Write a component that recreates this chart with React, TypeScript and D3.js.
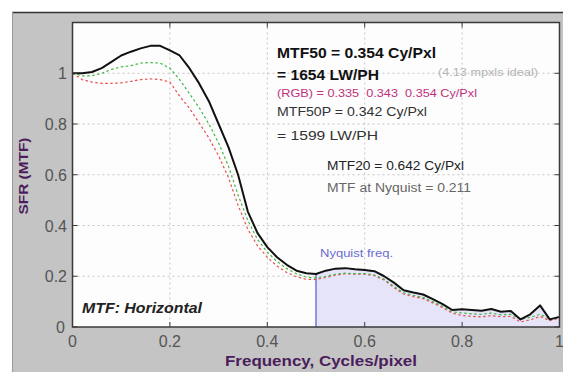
import React from "react";
import * as d3 from "d3";

// Spatial frequency, cycles/pixel
const freq = [
  0.0, 0.02, 0.04, 0.06, 0.08, 0.1, 0.12, 0.14, 0.16, 0.18, 0.2, 0.22, 0.24,
  0.26, 0.28, 0.3, 0.32, 0.34, 0.36, 0.38, 0.4, 0.42, 0.44, 0.46, 0.48, 0.5,
  0.52, 0.54, 0.56, 0.58, 0.6, 0.62, 0.64, 0.66, 0.68, 0.7, 0.72, 0.74, 0.76,
  0.78, 0.8, 0.82, 0.84, 0.86, 0.88, 0.9, 0.92, 0.94, 0.96, 0.98, 1.0,
];

// Luminance MTF (black)
const mtfLum = [
  1.0, 1.0, 1.005, 1.02, 1.045, 1.07, 1.085, 1.098, 1.108, 1.108, 1.09, 1.07,
  1.02, 0.96, 0.89, 0.8, 0.71, 0.6, 0.455, 0.37, 0.315, 0.275, 0.245, 0.222,
  0.212, 0.209, 0.222, 0.23, 0.232, 0.228, 0.225, 0.22, 0.2, 0.175, 0.145,
  0.136, 0.128, 0.11, 0.09, 0.067, 0.07, 0.067, 0.064, 0.071, 0.06, 0.063,
  0.03, 0.05, 0.085, 0.03, 0.04,
];

// Green channel MTF
const mtfGreen = [
  1.0, 0.99, 0.99, 1.0, 1.015, 1.025, 1.03, 1.04, 1.042, 1.04, 1.02, 0.975,
  0.92, 0.865, 0.8, 0.725, 0.635, 0.52, 0.42, 0.345, 0.295, 0.258, 0.23, 0.21,
  0.197, 0.193, 0.2, 0.208, 0.212, 0.21, 0.21, 0.205, 0.188, 0.16, 0.135,
  0.125, 0.116, 0.1, 0.082, 0.06, 0.055, 0.052, 0.05, 0.055, 0.048, 0.05, 0.03,
  0.038, 0.05, 0.032, 0.038,
];

// Red channel MTF
const mtfRed = [
  1.0, 0.975, 0.965, 0.96, 0.96, 0.962, 0.968, 0.975, 0.978, 0.975, 0.965,
  0.91, 0.862, 0.805, 0.745, 0.675, 0.59, 0.48, 0.385, 0.32, 0.275, 0.24, 0.215,
  0.198, 0.188, 0.187, 0.195, 0.204, 0.21, 0.208, 0.208, 0.202, 0.185, 0.155,
  0.13, 0.12, 0.112, 0.095, 0.076, 0.055, 0.045, 0.042, 0.04, 0.045, 0.04,
  0.042, 0.02, 0.028, 0.042, 0.025, 0.035,
];

const xTicks = [0, 0.2, 0.4, 0.6, 0.8, 1];
const yTicks = [0, 0.2, 0.4, 0.6, 0.8, 1];
const nyquist = 0.5;

const W = 563;
const H = 372;
const plot = { left: 72.5, right: 559.5, top: 22.5, bottom: 327 };
const FONT = "'Liberation Sans', Arial, sans-serif";

export default function App() {
  const x = d3.scaleLinear().domain([0, 1]).range([plot.left, plot.right]);
  const y = d3.scaleLinear().domain([0, 1.2]).range([plot.bottom, plot.top]);

  const mk = (vals: number[]) => freq.map((f, i) => ({ f, v: vals[i] }));
  const line = d3
    .line<{ f: number; v: number }>()
    .x((d) => x(d.f))
    .y((d) => y(d.v));
  const area = d3
    .area<{ f: number; v: number }>()
    .x((d) => x(d.f))
    .y0(y(0))
    .y1((d) => y(d.v));

  const lum = mk(mtfLum);
  const nyqIdx = freq.indexOf(nyquist);
  const shaded = lum.filter((d) => d.f >= nyquist);

  const tickLen = 5;

  return (
    <svg
      width={W}
      height={H}
      style={{ position: "absolute", left: 0, top: 0 }}
      fontFamily={FONT}
    >
      <rect x={0} y={0} width={W} height={H} fill="#ffffff" />
      <rect x={12} y={12} width={W - 12} height={H - 12} fill="#c4c4c4" />
      <line x1={12} x2={W} y1={12.5} y2={12.5} stroke="#333" strokeWidth={1.5} />
      <line x1={12.5} x2={12.5} y1={12} y2={H} stroke="#999" />

      <rect
        x={plot.left}
        y={plot.top}
        width={plot.right - plot.left}
        height={plot.bottom - plot.top}
        fill="#fdfdfd"
      />

      {/* grid */}
      {xTicks.slice(1, -1).map((t) => (
        <line
          key={"gx" + t}
          x1={x(t)}
          x2={x(t)}
          y1={plot.top}
          y2={plot.bottom}
          stroke="#c4c4c4"
          strokeDasharray="2,3"
        />
      ))}
      {yTicks.slice(1).map((t) => (
        <line
          key={"gy" + t}
          x1={plot.left}
          x2={plot.right}
          y1={y(t)}
          y2={y(t)}
          stroke="#c4c4c4"
          strokeDasharray="2,3"
        />
      ))}

      {/* Nyquist region */}
      <path d={area(shaded) ?? ""} fill="#e6e4f8" />
      <line
        x1={x(nyquist)}
        x2={x(nyquist)}
        y1={y(0)}
        y2={y(mtfLum[nyqIdx])}
        stroke="#7474d4"
        strokeWidth={1.5}
      />

      {/* curves */}
      <path
        d={line(mk(mtfRed)) ?? ""}
        fill="none"
        stroke="#e85050"
        strokeWidth={1.2}
        strokeDasharray="2.5,2.5"
      />
      <path
        d={line(mk(mtfGreen)) ?? ""}
        fill="none"
        stroke="#40b840"
        strokeWidth={1.2}
        strokeDasharray="2.5,2.5"
      />
      <path
        d={line(lum) ?? ""}
        fill="none"
        stroke="#111"
        strokeWidth={2}
        strokeLinejoin="round"
      />

      {/* frame + ticks */}
      <rect
        x={plot.left}
        y={plot.top}
        width={plot.right - plot.left}
        height={plot.bottom - plot.top}
        fill="none"
        stroke="#3a3a3a"
        strokeWidth={1.5}
      />
      {xTicks.map((t) => (
        <g key={"tx" + t} stroke="#3a3a3a">
          <line x1={x(t)} x2={x(t)} y1={plot.bottom} y2={plot.bottom - tickLen} />
          <line x1={x(t)} x2={x(t)} y1={plot.top} y2={plot.top + tickLen} />
        </g>
      ))}
      {yTicks.map((t) => (
        <g key={"ty" + t} stroke="#3a3a3a">
          <line x1={plot.left} x2={plot.left + tickLen} y1={y(t)} y2={y(t)} />
          <line x1={plot.right} x2={plot.right - tickLen} y1={y(t)} y2={y(t)} />
        </g>
      ))}

      {/* tick labels */}
      {xTicks.map((t) => (
        <text
          key={"lx" + t}
          x={x(t)}
          y={347}
          textAnchor="middle"
          fontSize={16}
          fill="#555"
        >
          {d3.format("~g")(t)}
        </text>
      ))}
      {yTicks.map((t) => (
        <text
          key={"ly" + t}
          x={t === 0 ? 65 : 67}
          y={y(t) + 6}
          textAnchor="end"
          fontSize={16}
          fill="#555"
        >
          {d3.format("~g")(t)}
        </text>
      ))}

      {/* axis titles */}
      <text
        x={225}
        y={366}
        fontSize={14}
        fontWeight="bold"
        fill="#4b1d5c"
        textLength={192}
        lengthAdjust="spacingAndGlyphs"
      >
        Frequency, Cycles/pixel
      </text>
      <text
        transform="translate(28,176) rotate(-90)"
        textAnchor="middle"
        fontSize={13}
        fontWeight="bold"
        fill="#4b1d5c"
        textLength={77}
        lengthAdjust="spacingAndGlyphs"
      >
        SFR (MTF)
      </text>

      {/* annotations */}
      <g>
        <text x={277} y={58} fontSize={15} fontWeight="bold" fill="#111" textLength={159} lengthAdjust="spacingAndGlyphs">
          MTF50 = 0.354 Cy/Pxl
        </text>
        <text x={277} y={80} fontSize={15} fontWeight="bold" fill="#111" textLength={102} lengthAdjust="spacingAndGlyphs">
          = 1654 LW/PH
        </text>
        <text x={438} y={76} fontSize={10} fill="#b4b4b4" textLength={100} lengthAdjust="spacingAndGlyphs">
          (4.13 mpxls ideal)
        </text>
        <text x={277} y={97} fontSize={11} fill="#c0307c" textLength={200} lengthAdjust="spacingAndGlyphs" style={{ whiteSpace: "pre" }}>
          {"(RGB) = 0.335  0.343  0.354 Cy/Pxl"}
        </text>
        <text x={277} y={116} fontSize={12} fill="#333" textLength={150} lengthAdjust="spacingAndGlyphs">
          MTF50P = 0.342 Cy/Pxl
        </text>
        <text x={277} y={140} fontSize={12} fill="#333" textLength={101} lengthAdjust="spacingAndGlyphs">
          = 1599 LW/PH
        </text>
        <text x={327} y={170} fontSize={12} fill="#222" textLength={137} lengthAdjust="spacingAndGlyphs">
          MTF20 = 0.642 Cy/Pxl
        </text>
        <text x={327} y={192} fontSize={12} fill="#666" textLength={144} lengthAdjust="spacingAndGlyphs">
          MTF at Nyquist = 0.211
        </text>
        <text x={320} y={257} fontSize={11} fill="#6c6cd0" textLength={73} lengthAdjust="spacingAndGlyphs">
          Nyquist freq.
        </text>
        <text x={82} y={313} fontSize={14} fontWeight="bold" fontStyle="italic" fill="#222" textLength={120} lengthAdjust="spacingAndGlyphs">
          MTF: Horizontal
        </text>
      </g>
    </svg>
  );
}
